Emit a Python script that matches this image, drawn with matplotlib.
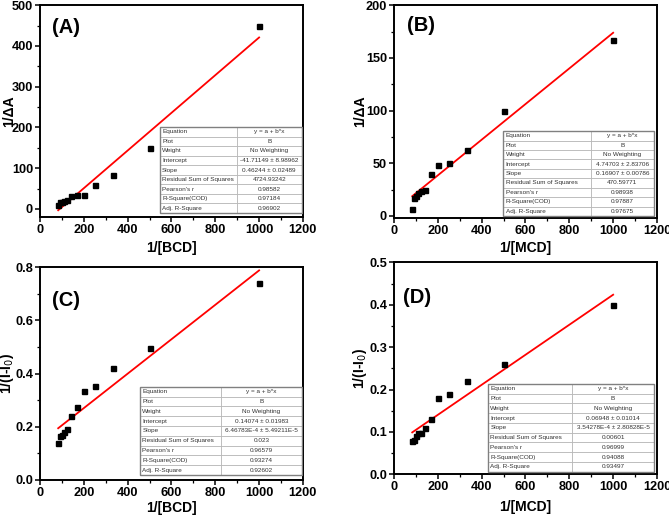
import matplotlib
matplotlib.use("Agg")
import matplotlib.pyplot as plt
import numpy as np
from matplotlib.ticker import MultipleLocator

plt.rcParams["font.family"] = ["Liberation Sans", "DejaVu Sans"]

# reciprocal concentrations (shared by all panels)
x_conc = [83, 91, 100, 111, 125, 143, 167, 200, 250, 333, 500, 1000]

y_a = [10, 17, 18, 20, 22, 32, 33, 35, 58, 83, 150, 450]
y_b = [7, 17, 19, 22, 24, 25, 40, 48, 50, 63, 100, 167]
y_c = [0.14, 0.165, 0.168, 0.18, 0.19, 0.242, 0.275, 0.335, 0.352, 0.422, 0.495, 0.74]
y_d = [0.078, 0.08, 0.09, 0.097, 0.097, 0.11, 0.13, 0.18, 0.19, 0.22, 0.26, 0.40]

intercepts = [-41.71149, 4.74703, 0.14074, 0.06948]
slopes = [0.46244, 0.16907, 6.46783e-4, 3.54278e-4]

row_names = ["Equation", "Plot", "Weight", "Intercept", "Slope",
             "Residual Sum of Squares", "Pearson's r", "R-Square(COD)", "Adj. R-Square"]
vals_a = ["y = a + b*x", "B", "No Weighting", "-41.71149 ± 8.98962", "0.46244 ± 0.02489",
          "4724.93242", "0.98582", "0.97184", "0.96902"]
vals_b = ["y = a + b*x", "B", "No Weighting", "4.74703 ± 2.83706", "0.16907 ± 0.00786",
          "470.59771", "0.98938", "0.97887", "0.97675"]
vals_c = ["y = a + b*x", "B", "No Weighting", "0.14074 ± 0.01983", "6.46783E-4 ± 5.49211E-5",
          "0.023", "0.96579", "0.93274", "0.92602"]
vals_d = ["y = a + b*x", "B", "No Weighting", "0.06948 ± 0.01014", "3.54278E-4 ± 2.80828E-5",
          "0.00601", "0.96999", "0.94088", "0.93497"]

panels = [
    # tag, y, table values, xlabel, ylabel, ylim, major, minor, axes rect, tag pos,
    # table bbox, col split, xlabel y, ylabel x
    ("(A)", y_a, vals_a, "1/[BCD]", "1/ΔA", (-20, 500), 100, 50,
     [0.0598, 0.581, 0.393, 0.409], (0.045, 0.896), [0.456, 0.019, 0.540, 0.406], 0.54,
     -0.146, -0.118),
    ("(B)", y_b, vals_b, "1/[MCD]", "1/ΔA", (-2, 200), 50, 25,
     [0.589, 0.579, 0.393, 0.411], (0.048, 0.906), [0.414, 0.010, 0.575, 0.398], 0.58,
     -0.141, -0.129),
    ("(C)", y_c, vals_c, "1/[BCD]", "1/(I-I$_0$)", (0, 0.8), 0.2, 0.1,
     [0.0598, 0.0734, 0.393, 0.411], (0.044, 0.845), [0.380, 0.023, 0.616, 0.415], 0.50,
     -0.131, -0.124),
    ("(D)", y_d, vals_d, "1/[MCD]", "1/(I-I$_0$)", (0, 0.5), 0.1, 0.05,
     [0.589, 0.0844, 0.393, 0.409], (0.034, 0.833), [0.357, 0.012, 0.632, 0.415], 0.506,
     -0.156, -0.129),
]

fig = plt.figure(figsize=(6.69, 5.18), dpi=100)

for k, (tag, yv, vals, xl, yl, ylim, maj, mnr, rect, tpos, tbox, split, xly, ylx) in enumerate(panels):
    ax = fig.add_axes(rect)
    ax.plot(x_conc, yv, "s", color="black", ms=3.6, zorder=3)
    xf = np.array([x_conc[0], x_conc[-1]])
    ax.plot(xf, intercepts[k] + slopes[k] * xf, color="red", lw=1.3, zorder=2)

    ax.set_xlim(0, 1200)
    ax.set_ylim(*ylim)
    ax.xaxis.set_major_locator(MultipleLocator(200))
    ax.xaxis.set_minor_locator(MultipleLocator(100))
    ax.yaxis.set_major_locator(MultipleLocator(maj))
    ax.yaxis.set_minor_locator(MultipleLocator(mnr))
    ax.tick_params(which="major", direction="out", length=3.5, width=1.1, labelsize=9.2, pad=1.5)
    ax.tick_params(which="minor", direction="out", length=2.2, width=0.9)
    for lab in ax.get_xticklabels() + ax.get_yticklabels():
        lab.set_fontweight("bold")
    for sp in ax.spines.values():
        sp.set_linewidth(1.4)
    ax.set_xlabel(xl, fontsize=10, fontweight="bold", va="center")
    ax.set_ylabel(yl, fontsize=10, fontweight="bold", va="center")
    ax.xaxis.set_label_coords(0.5, xly)
    ax.yaxis.set_label_coords(ylx, 0.5)
    ax.text(tpos[0], tpos[1], tag, transform=ax.transAxes, fontsize=14.5,
            fontweight="bold", ha="left", va="center")

    tb = ax.table(cellText=[[r, v] for r, v in zip(row_names, vals)],
                  bbox=tbox, colWidths=[split, 1 - split], zorder=5)
    tb.auto_set_font_size(False)
    tb.set_fontsize(4.6)
    for (r, c), cell in tb.get_celld().items():
        cell.set_edgecolor("#b0b0b0")
        cell.set_linewidth(0.5)
        cell.set_facecolor("white")
        cell.get_text().set_color("#333333")
        if c == 0:
            cell.get_text().set_ha("left")
            cell.PAD = 0.03
        else:
            cell.get_text().set_ha("center")
    # darker outer frame around the table
    x0, y0, w, h = tbox
    ax.add_patch(plt.Rectangle((x0, y0), w, h, transform=ax.transAxes, fill=False,
                               edgecolor="#808080", lw=1.0, zorder=6))

fig.savefig("out.png", dpi=100)
